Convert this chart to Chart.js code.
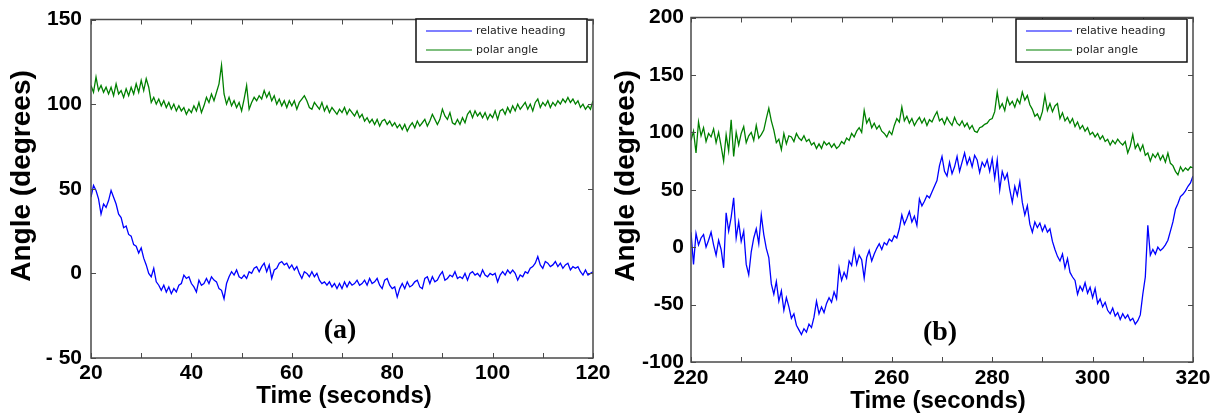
<!DOCTYPE html>
<html>
<head>
<meta charset="utf-8">
<script src="https://cdn.jsdelivr.net/npm/chart.js@4.4.1/dist/chart.umd.min.js"></script>
<style>
  html, body { margin: 0; padding: 0; background: #fff; }
  #wrap { position: relative; width: 1223px; height: 415px; overflow: hidden; }
  .panel { position: absolute; top: 0; height: 415px; overflow: hidden; }
  #pa { left: 0; width: 610px; }
  #pb { left: 610px; width: 613px; }
</style>
</head>
<body>
<div id="wrap">
  <div class="panel" id="pa"><canvas id="chartA" width="640" height="415"></canvas></div>
  <div class="panel" id="pb"><canvas id="chartB" width="613" height="415"></canvas></div>
</div>
<script>
const SERIES = ['relative heading', 'polar angle'];
const BLUE = '#0000ff';
const GREEN = '#008000';

// panel (a): 20..120 s, every 0.5 s
const timeA = Array.from({ length: 201 }, (_, i) => 20 + i * 0.5);
const headingA = [
  45,52,49,44,35,41,39,43,49,45,41,35,33,27,28,23,22,17,16,12,
  15,9,5,0,-2,3,-5,-7,-10,-7,-11,-8,-12,-9,-11,-7,-6,-1,-3,-2,
  -6,-8,-11,-4,-7,-6,-3,-6,-2,-4,-5,-9,-10,-15,-6,-2,1,-1,2,-2,
  -3,-1,-3,1,0,3,4,1,4,6,1,5,-3,2,3,6,7,5,6,3,
  5,2,4,0,-3,1,0,-2,1,-2,0,-4,-6,-5,-7,-5,-8,-6,-9,-6,
  -9,-5,-8,-5,-7,-6,-4,-7,-6,-4,-7,-3,-6,-5,-3,-7,-9,-4,-3,-7,
  -9,-8,-14,-9,-6,-9,-5,-8,-7,-5,-4,-8,-9,-3,-2,-6,-2,-5,-4,-1,
  1,-4,-3,-1,-2,1,-3,-2,-3,0,-4,0,1,-1,0,-2,2,-1,-2,0,
  -1,0,-5,-1,1,-1,2,0,2,0,-4,-1,-2,1,0,3,4,6,10,5,
  3,7,6,4,5,7,4,6,3,5,6,2,4,3,4,1,-1,2,-1,0,
  1
];
const polarA = [
  111,107,116,108,111,107,110,106,110,105,112,106,108,104,109,105,110,106,112,107,
  114,108,115,110,101,104,100,103,99,102,98,101,97,100,96,99,96,98,94,97,
  95,99,96,101,95,99,104,101,106,102,107,112,123,106,100,104,99,102,98,101,
  96,103,111,97,101,104,102,105,103,108,104,107,102,105,100,103,99,102,98,102,
  99,102,97,101,103,105,102,98,97,101,99,97,101,96,99,95,98,96,94,97,
  95,98,94,97,95,93,96,92,94,90,92,89,91,88,91,87,90,91,88,90,
  87,89,86,88,85,88,84,87,89,86,90,87,89,91,87,90,94,91,88,91,
  97,93,91,95,89,88,91,88,92,89,94,96,92,96,93,95,92,95,91,94,
  92,96,91,96,97,94,98,95,99,96,100,97,99,101,97,100,96,101,103,98,
  101,99,102,98,101,99,102,100,103,101,104,101,103,100,102,98,100,97,99,97,
  102
];

// panel (b): 220..320 s, every 0.5 s
const timeB = Array.from({ length: 201 }, (_, i) => 220 + i * 0.5);
const headingB = [
  13,-15,12,2,8,11,0,6,13,2,-7,6,-2,-18,30,14,26,43,8,22,
  5,14,-15,-24,-4,8,16,3,28,11,-1,-9,-32,-41,-30,-47,-38,-55,-44,-52,
  -62,-58,-68,-72,-76,-71,-74,-67,-70,-61,-47,-58,-52,-57,-49,-44,-48,-39,-45,-18,
  -29,-22,-27,-12,-16,-2,-15,-7,-11,-27,-9,-3,-12,-6,-1,3,-2,4,2,7,
  5,10,8,16,28,20,25,31,22,27,19,42,36,40,45,43,48,53,58,71,
  79,66,62,74,64,70,79,66,74,82,72,78,70,80,76,65,74,70,76,66,
  77,60,76,50,66,59,64,50,39,53,45,57,39,28,36,20,13,22,17,21,
  14,19,13,16,5,-2,-8,-12,-6,-18,-10,-22,-26,-29,-41,-34,-38,-31,-40,-35,
  -44,-36,-49,-45,-52,-48,-55,-58,-53,-60,-57,-63,-58,-62,-59,-64,-62,-67,-64,-59,
  -41,-26,19,-7,-2,-6,0,-3,-1,2,6,14,22,33,38,44,46,49,53,56,
  62
];
const polarB = [
  93,101,82,109,97,104,92,99,96,103,91,100,88,75,98,84,111,79,100,89,
  99,105,91,97,100,93,106,95,98,102,112,121,110,102,91,94,85,99,90,97,
  96,92,99,95,93,97,92,94,89,91,86,90,86,92,89,91,87,90,86,88,
  92,90,95,93,99,96,101,104,100,119,108,112,104,108,103,106,101,99,96,101,
  98,106,112,109,122,110,114,108,112,106,110,113,108,112,106,111,109,114,118,110,
  112,107,113,109,106,113,108,106,110,105,108,103,106,101,100,104,105,107,108,111,
  112,118,135,121,125,119,130,124,127,122,129,125,135,128,132,124,120,114,116,111,
  118,132,119,125,118,123,125,112,117,110,113,108,112,105,109,103,106,101,104,98,
  100,96,99,94,97,92,94,89,93,90,94,91,89,92,82,88,98,86,90,84,
  89,80,82,75,81,78,82,76,80,74,82,73,71,66,63,70,66,69,67,70,
  69
];

const pts = (ts, vs) => ts.map((t, i) => ({ x: t, y: vs[i] }));

const TICK_FONT = { family: '"Liberation Sans", Arial, sans-serif', weight: 'bold', size: 21, lineHeight: 1 };

// frame, inside ticks, legend box, axis titles and panel letter
const framePlugin = {
  id: 'frame',
  afterDraw(chart, args, o) {
    const { ctx, chartArea: a, scales: { x, y } } = chart;
    ctx.save();
    ctx.strokeStyle = '#4a4a4a';
    ctx.lineWidth = 1;
    ctx.beginPath();
    x.ticks.forEach(t => {
      const px = Math.round(x.getPixelForValue(t.value)) + 0.5;
      ctx.moveTo(px, a.bottom); ctx.lineTo(px, a.bottom - 5);
      ctx.moveTo(px, a.top); ctx.lineTo(px, a.top + 5);
    });
    y.ticks.forEach(t => {
      const py = Math.round(y.getPixelForValue(t.value)) + 0.5;
      ctx.moveTo(a.left, py); ctx.lineTo(a.left + 5, py);
      ctx.moveTo(a.right, py); ctx.lineTo(a.right - 5, py);
    });
    ctx.stroke();
    ctx.lineWidth = 1.5;
    ctx.strokeRect(a.left, a.top, a.right - a.left, a.bottom - a.top);

    // legend
    const L = o.legend;
    ctx.fillStyle = '#fff';
    ctx.fillRect(L.x, L.y, L.w, L.h);
    ctx.strokeStyle = '#111';
    ctx.lineWidth = 1.5;
    ctx.strokeRect(L.x, L.y, L.w, L.h);
    ctx.font = '11px "DejaVu Sans", sans-serif';
    ctx.textBaseline = 'middle';
    ctx.textAlign = 'left';
    chart.data.datasets.forEach((d, i) => {
      const ly = L.y + 12 + i * 19;
      ctx.strokeStyle = d.borderColor;
      ctx.lineWidth = 1.2;
      ctx.beginPath();
      ctx.moveTo(L.x + 10, ly); ctx.lineTo(L.x + 56, ly);
      ctx.stroke();
      ctx.fillStyle = '#222';
      ctx.fillText(d.label, L.x + 60, ly);
    });

    // axis titles
    ctx.fillStyle = '#000';
    ctx.textAlign = 'center';
    ctx.font = 'bold 24px "Liberation Sans", Arial, sans-serif';
    ctx.fillText('Time (seconds)', o.xTitle[0], o.xTitle[1]);
    ctx.save();
    ctx.translate(o.yTitle[0], o.yTitle[1]);
    ctx.rotate(-Math.PI / 2);
    ctx.font = 'bold 28px "Liberation Sans", Arial, sans-serif';
    ctx.fillText('Angle (degrees)', 0, 0);
    ctx.restore();

    // panel letter
    ctx.font = 'bold 28px "Liberation Serif", "Times New Roman", serif';
    ctx.fillText(o.letter, o.letterPos[0], o.letterPos[1]);
    ctx.restore();
  }
};

function makePanel(id, p) {
  return new Chart(document.getElementById(id), {
    type: 'line',
    data: {
      datasets: [
        { label: SERIES[0], data: p.heading, borderColor: BLUE, borderWidth: 1.3, pointRadius: 0, tension: 0 },
        { label: SERIES[1], data: p.polar, borderColor: GREEN, borderWidth: 1.3, pointRadius: 0, tension: 0 }
      ]
    },
    options: {
      responsive: false,
      animation: false,
      layout: { padding: { left: 0, top: 12, right: p.padRight, bottom: 0 } },
      plugins: {
        legend: { display: false },
        tooltip: { enabled: false },
        frame: p.frame
      },
      scales: {
        x: {
          type: 'linear', min: p.xMin, max: p.xMax,
          grid: { display: false, drawTicks: false },
          border: { display: false },
          afterFit: s => { s.height = p.xAxisH; },
          ticks: {
            stepSize: 10, autoSkip: false, maxRotation: 0, padding: p.xPad,
            color: '#000', font: TICK_FONT,
            callback: v => (v % 20 === 0 ? String(v) : '')
          }
        },
        y: {
          min: p.yMin, max: p.yMax,
          grid: { display: false, drawTicks: false },
          border: { display: false },
          afterFit: s => { s.width = p.yAxisW; },
          ticks: {
            stepSize: 50, padding: p.yPad,
            color: '#000', font: TICK_FONT,
            callback: p.yLabel
          }
        }
      }
    },
    plugins: [framePlugin]
  });
}

makePanel('chartA', {
  heading: pts(timeA, headingA),
  polar: pts(timeA, polarA),
  xMin: 20, xMax: 120, yMin: -50, yMax: 150,
  padRight: 47, xAxisH: 57, yAxisW: 91, yPad: 9, xPad: 5,
  yLabel: v => (v < 0 ? '- ' + Math.abs(v) : String(v)),
  frame: {
    legend: { x: 416, y: 19, w: 171, h: 43 },
    xTitle: [344, 396], yTitle: [22, 176],
    letter: '(a)', letterPos: [340, 331]
  }
});

makePanel('chartB', {
  heading: pts(timeB, headingB),
  polar: pts(timeB, polarB),
  xMin: 220, xMax: 320, yMin: -100, yMax: 200,
  padRight: 30, xAxisH: 53, yAxisW: 81, yPad: 7, xPad: 6,
  yLabel: v => String(v),
  frame: {
    legend: { x: 406, y: 19, w: 171, h: 43 },
    xTitle: [328, 401], yTitle: [16, 176],
    letter: '(b)', letterPos: [330, 333]
  }
});
</script>
</body>
</html>
